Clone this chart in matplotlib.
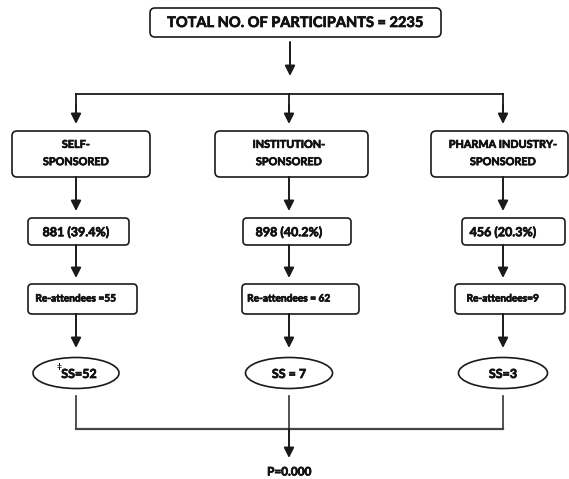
import matplotlib.pyplot as plt
import matplotlib.patheffects as pe
from matplotlib.patches import FancyBboxPatch, Ellipse

plt.rcParams['font.family'] = ['Lato', 'DejaVu Sans']

# flowchart content
total = 2235
groups = ['SELF-\nSPONSORED', 'INSTITUTION-\nSPONSORED', 'PHARMA INDUSTRY-\nSPONSORED']
counts = [881, 898, 456]
percents = [39.4, 40.2, 20.3]
reattend_labels = ['Re-attendees =55', 'Re-attendees = 62', 'Re-attendees=9']
ss_labels = ['SS=52', 'SS = 7', 'SS=3']
p_label = 'P=0.000'

# layout in pixel units
col_x = [76, 289, 503]
grp_box = [(12, 150), (215, 368), (431, 568)]
val_box = [(28, 129), (243, 351), (462, 565)]
re_box = [(28, 137), (242, 359), (455, 565)]
ell_w = [86, 87, 89]

fig = plt.figure(figsize=(5.69, 4.79), dpi=100)
ax = fig.add_axes([0, 0, 1, 1])
ax.set_xlim(0, 569)
ax.set_ylim(479, 0)
ax.axis('off')

lc = '#1a1a1a'
# thicken the bold text a little, the original font is heavier
heavy = [pe.withStroke(linewidth=0.5, foreground='#111')]
txt = dict(ha='center', va='center', fontweight='bold', color='#111', path_effects=heavy)


def rbox(x0, x1, y0, y1, r=5):
    ax.add_patch(FancyBboxPatch((x0, y0), x1 - x0, y1 - y0,
                                boxstyle=f'round,pad=0,rounding_size={r}',
                                fc='white', ec=lc, lw=1.2))


def arrow(x, y0, y1):
    ax.annotate('', xy=(x, y1), xytext=(x, y0),
                arrowprops=dict(arrowstyle='-|>,head_length=0.6,head_width=0.3',
                                color=lc, lw=1.4, shrinkA=0, shrinkB=0,
                                mutation_scale=10))


# top box
rbox(150, 441, 8, 37)
ax.text(295, 23, f'TOTAL NO. OF PARTICIPANTS = {total}', fontsize=10.5, **txt)
arrow(290, 42, 76)

# split line
ax.plot([col_x[0], col_x[2]], [94, 94], color=lc, lw=1.3)
for i, x in enumerate(col_x):
    ax.plot([x, x], [94, 110], color=lc, lw=1.3)
    arrow(x, 105, 124)

    rbox(grp_box[i][0], grp_box[i][1], 131, 177)
    ax.text(x, 153, groups[i], fontsize=7.8, linespacing=1.7, **txt)
    arrow(x, 177, 211)

    rbox(val_box[i][0], val_box[i][1], 218, 245, r=4)
    ax.text(x, 232, f'{counts[i]} ({percents[i]}%)', fontsize=9, **txt)
    arrow(x, 245, 278)

    rbox(re_box[i][0], re_box[i][1], 284, 314, r=4)
    ax.text(x, 299, reattend_labels[i], fontsize=7.3, **txt)
    arrow(x, 314, 348)

    ax.add_patch(Ellipse((x, 373), ell_w[i], 31, fc='white', ec=lc, lw=1.2))
    ax.text(x + (3 if i == 0 else 0), 374, ss_labels[i], fontsize=9, **txt)
    ax.plot([x, x], [396, 429], color='#333', lw=1.2)

ax.text(59, 367, '\u2021', ha='center', va='center', fontsize=6,
        fontweight='bold', color='#111')

# merge line
ax.plot([col_x[0], col_x[2]], [429, 429], color='#444', lw=1.6)
arrow(col_x[1], 429, 458)
ax.text(col_x[1], 472, p_label, fontsize=8.5, **txt)

fig.savefig('out.png', dpi=100)
